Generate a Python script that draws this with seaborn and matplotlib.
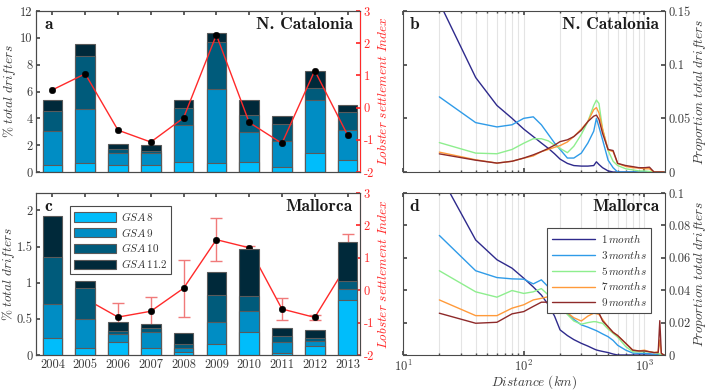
import numpy as np
import pandas as pd
import matplotlib
matplotlib.use('Agg')
import matplotlib.pyplot as plt
from matplotlib.patches import Patch
from matplotlib.ticker import FuncFormatter, NullFormatter, LogLocator
import seaborn as sns

# ---------------- data ----------------
years = ['2004', '2005', '2006', '2007', '2008', '2009', '2010', '2011', '2012', '2013']

# % total drifters per GSA, N. Catalonia
cat_gsa8 = [0.49, 0.67, 0.49, 0.52, 0.74, 0.67, 0.71, 0.37, 1.40, 0.89]
cat_gsa9 = [2.59, 3.99, 0.91, 0.88, 2.73, 5.54, 2.29, 1.95, 4.00, 2.21]
cat_gsa10 = [1.48, 4.01, 0.33, 0.20, 1.31, 3.45, 1.24, 1.25, 0.86, 1.38]
cat_gsa112 = [0.84, 0.84, 0.34, 0.42, 0.62, 0.69, 1.11, 0.62, 1.26, 0.50]
cat_index = [0.55, 1.05, -0.70, -1.07, -0.32, 2.26, -0.46, -1.11, 1.15, -0.85]

# % total drifters per GSA, Mallorca
mal_gsa8 = [0.23, 0.09, 0.18, 0.09, 0.04, 0.15, 0.32, 0.03, 0.13, 0.76]
mal_gsa9 = [0.47, 0.41, 0.11, 0.23, 0.06, 0.30, 0.29, 0.15, 0.07, 0.15]
mal_gsa10 = [0.65, 0.43, 0.04, 0.05, 0.05, 0.38, 0.20, 0.08, 0.03, 0.12]
mal_gsa112 = [0.57, 0.09, 0.13, 0.06, 0.15, 0.32, 0.66, 0.11, 0.12, 0.53]
mal_index = [np.nan, -0.26, -0.83, -0.65, 0.06, 1.56, 1.31, -0.58, -0.84, 0.81]
mal_err_lo = [np.nan, 0.30, 0.40, 0.45, 0.88, 0.67, 0.08, 0.34, 0.08, 0.91]
mal_err_hi = [np.nan, 0.31, 0.42, 0.44, 0.88, 0.66, 0.06, 0.33, 0.07, 0.93]

# distance distributions
dist_km = [20, 40, 60, 80, 100, 120, 140, 160, 180, 200,
           230, 260, 300, 340, 380, 400, 420, 450, 500, 550,
           600, 700, 800, 900, 1000, 1100, 1200, 1300, 1340, 1380, 1450]

cat_1m = [0.158, 0.088, 0.062, 0.050, 0.040, 0.033, 0.027, 0.022, 0.017, 0.012,
          0.008, 0.006, 0.0055, 0.0055, 0.006, 0.0095, 0.007, 0.004, 0.001, 0,
          0, 0, 0, 0, 0, 0, 0, 0, 0, 0, 0]
cat_3m = [0.070, 0.046, 0.042, 0.044, 0.050, 0.0514, 0.044, 0.035, 0.027, 0.021,
          0.013, 0.013, 0.0176, 0.027, 0.038, 0.050, 0.042, 0.030, 0.011, 0.004,
          0, 0, 0, 0, 0, 0, 0, 0, 0, 0, 0]
cat_5m = [0.0274, 0.0176, 0.017, 0.021, 0.0268, 0.031, 0.031, 0.029, 0.025, 0.022,
          0.018, 0.024, 0.035, 0.047, 0.062, 0.067, 0.0638, 0.040, 0.020, 0.010,
          0.006, 0.003, 0.002, 0.001, 0.001, 0.0005, 0, 0, 0, 0, 0]
cat_7m = [0.0185, 0.0114, 0.0083, 0.010, 0.0129, 0.015, 0.019, 0.021, 0.023, 0.0246,
          0.028, 0.033, 0.040, 0.047, 0.058, 0.060, 0.055, 0.040, 0.0206, 0.019,
          0.008, 0.0052, 0.004, 0.0037, 0.003, 0.003, 0, 0, 0, 0, 0]
cat_9m = [0.0169, 0.011, 0.0083, 0.010, 0.013, 0.016, 0.019, 0.022, 0.025, 0.0283,
          0.030, 0.033, 0.039, 0.047, 0.052, 0.053, 0.049, 0.036, 0.021, 0.020,
          0.008, 0.006, 0.005, 0.004, 0.004, 0.0045, 0, 0, 0, 0, 0]

mal_1m = [0.112, 0.071, 0.0588, 0.0536, 0.0474, 0.042, 0.037, 0.031, 0.024, 0.0155,
          0.012, 0.0095, 0.0072, 0.0055, 0.0038, 0.0031, 0.0027, 0.0022, 0.0015, 0.0006,
          0, 0, 0, 0, 0, 0, 0, 0, 0, 0, 0]
mal_3m = [0.0738, 0.052, 0.0478, 0.047, 0.0468, 0.0439, 0.0464, 0.042, 0.036, 0.031,
          0.026, 0.022, 0.0186, 0.0172, 0.0157, 0.015, 0.0142, 0.013, 0.0113, 0.009,
          0.006, 0.003, 0.0012, 0.001, 0.001, 0.0008, 0.0005, 0, 0, 0, 0]
mal_5m = [0.052, 0.039, 0.0357, 0.0398, 0.038, 0.039, 0.041, 0.037, 0.033, 0.030,
          0.025, 0.021, 0.019, 0.020, 0.0206, 0.0205, 0.020, 0.0196, 0.016, 0.0134,
          0.011, 0.0052, 0.002, 0.002, 0.002, 0.002, 0.0015, 0.001, 0.0005, 0, 0]
mal_7m = [0.034, 0.0243, 0.0243, 0.0289, 0.031, 0.034, 0.035, 0.036, 0.033, 0.030,
          0.026, 0.023, 0.021, 0.024, 0.0258, 0.0255, 0.025, 0.022, 0.0171, 0.014,
          0.012, 0.0072, 0.003, 0.0025, 0.003, 0.002, 0.0015, 0.002, 0.0093, 0.001, 0]
mal_9m = [0.0258, 0.0196, 0.0202, 0.0254, 0.0268, 0.030, 0.0326, 0.0326, 0.031, 0.0303,
          0.029, 0.027, 0.0272, 0.0285, 0.0284, 0.0283, 0.026, 0.021, 0.0175, 0.014,
          0.012, 0.0072, 0.003, 0.0025, 0.0025, 0.002, 0.0015, 0.0015, 0.0212, 0.001, 0]

gsa_labels = [r'$GSA\,8$', r'$GSA\,9$', r'$GSA\,10$', r'$GSA\,11.2$']
gsa_colors = ['#00bdfb', '#008dc4', '#005b7b', '#00293a']
period_labels = [r'$1\,month$', r'$3\,months$', r'$5\,months$', r'$7\,months$', r'$9\,months$']
period_colors = ['#2e2a8c', '#2f9be8', '#8eee8e', '#ff9a3a', '#8e2a2a']

# ---------------- style ----------------
sns.set_theme(style='ticks')
plt.rcParams.update({
    'font.family': 'serif',
    'font.serif': ['cmr10', 'DejaVu Serif'],
    'mathtext.fontset': 'cm',
    'axes.unicode_minus': False,
    'axes.formatter.use_mathtext': True,
    'axes.edgecolor': '#4a4a4a',
    'axes.linewidth': 0.8,
    'xtick.direction': 'in',
    'ytick.direction': 'in',
    'xtick.color': '#4a4a4a',
    'ytick.color': '#4a4a4a',
    'xtick.labelcolor': '#3a3a3a',
    'ytick.labelcolor': '#3a3a3a',
    'xtick.labelsize': 9,
    'ytick.labelsize': 9,
    'xtick.major.size': 3,
    'ytick.major.size': 3,
    'xtick.major.pad': 2.5,
    'ytick.major.pad': 2.5,
    'text.color': '#333333',
    'axes.labelcolor': '#3a3a3a',
})

RED = '#ff2a2a'
W, H = 708, 390
LABEL_FS = 9.5
fig = plt.figure(figsize=(W / 100, H / 100), dpi=100)


def box(x0, y0, x1, y1):
    return [x0 / W, 1 - y1 / H, (x1 - x0) / W, (y1 - y0) / H]


ax_a = fig.add_axes(box(36, 11, 360, 172))
ax_b = fig.add_axes(box(403, 11, 665, 172))
ax_c = fig.add_axes(box(36, 193, 360, 355))
ax_d = fig.add_axes(box(403, 193, 665, 355))

gfmt = FuncFormatter(lambda v, p: '%g' % v)


def bars_panel(ax, parts, index, ylim, yticks, label_px, err=None):
    cum = np.cumsum(np.array(parts), axis=0)
    for i in range(3, -1, -1):
        sns.barplot(x=years, y=cum[i], color=gsa_colors[i], width=0.6,
                    edgecolor='#5a5a5a', linewidth=0.8, saturation=1, ax=ax)
    ax.set_xlim(-0.5, 9.38)
    ax.set_ylim(*ylim)
    ax.set_yticks(yticks)
    ax.yaxis.set_major_formatter(gfmt)
    ax.set_xlabel('')
    ax.set_ylabel(r'$\%\ total\ drifters$', fontsize=LABEL_FS)
    ax.yaxis.set_label_coords((label_px - 36) / 324, 0.5)
    ax.tick_params(axis='x', top=True, bottom=True)
    ax.tick_params(axis='y', left=True, right=False)

    ax2 = ax.twinx()
    pos = np.arange(len(years))
    if err is not None:
        ax2.errorbar(pos, index, yerr=err, fmt='none', ecolor='#f07a7a',
                     elinewidth=1.0, capsize=4, capthick=1.0)
    sns.lineplot(x=pos, y=index, color=RED, lw=1.0, ax=ax2)
    sns.scatterplot(x=pos, y=index, color='black', s=22, edgecolor='black', ax=ax2, zorder=5)
    ax2.set_ylim(-2, 3)
    ax2.set_yticks([-2, -1, 0, 1, 2, 3])
    ax2.yaxis.set_major_formatter(FuncFormatter(lambda v, p: '%d' % v))
    ax2.tick_params(axis='y', colors=RED, labelcolor=RED, right=True)
    ax2.spines['right'].set_color(RED)
    ax2.set_ylabel(r'$Lobster\ settlement\ Index$', color=RED, fontsize=LABEL_FS)
    ax2.yaxis.set_label_coords((377 - 36) / 324, 0.5)
    return ax2


def lines_panel(ax, series, ylim, yticks):
    for vals, lab, col in zip(series, period_labels, period_colors):
        sns.lineplot(x=dist_km, y=vals, color=col, lw=1.0, label=lab, ax=ax, estimator=None)
    ax.set_xscale('log')
    ax.set_xlim(10, 1480)
    ax.set_ylim(*ylim)
    ax.set_yticks(yticks)
    ax.yaxis.set_major_formatter(gfmt)
    ax.xaxis.set_minor_locator(LogLocator(base=10, subs=np.arange(2, 10)))
    ax.xaxis.set_minor_formatter(NullFormatter())
    ax.grid(True, which='both', axis='x', color='#e4e4e4', lw=0.8)
    ax.set_axisbelow(True)
    ax.tick_params(axis='y', left=True, right=True, labelleft=False, labelright=True)
    ax.tick_params(axis='x', which='both', top=True, bottom=True)
    ax.tick_params(axis='x', which='minor', length=1.5)
    ax.yaxis.set_label_position('right')
    ax.set_ylabel(r'$Proportion\ total\ drifters$', fontsize=LABEL_FS)
    ax.yaxis.set_label_coords((692 - 403) / 262, 0.5)


# panel a
bars_panel(ax_a, [cat_gsa8, cat_gsa9, cat_gsa10, cat_gsa112], cat_index,
           (0, 12), [0, 2, 4, 6, 8, 10, 12], label_px=18.5)
ax_a.tick_params(axis='x', labelbottom=False)

# panel c
ax2c = bars_panel(ax_c, [mal_gsa8, mal_gsa9, mal_gsa10, mal_gsa112], mal_index,
                  (0, 2.24), [0, 0.5, 1, 1.5, 2], label_px=17.5, err=[mal_err_lo, mal_err_hi])
handles = [Patch(facecolor=c, edgecolor='#5a5a5a', lw=0.8) for c in gsa_colors]
leg = ax_c.legend(handles, gsa_labels, loc='upper left', bbox_to_anchor=(0.088, 0.955),
                  fontsize=8, handlelength=3.8, handleheight=0.9, labelspacing=0.25,
                  borderpad=0.35, handletextpad=0.4, fancybox=False, framealpha=1,
                  edgecolor='#4a4a4a')
leg.get_frame().set_linewidth(0.8)
leg.set_zorder(10)
ax_c.set_zorder(ax2c.get_zorder() + 1)
ax_c.patch.set_visible(False)

# panel b
lines_panel(ax_b, [cat_1m, cat_3m, cat_5m, cat_7m, cat_9m], (0, 0.15), [0, 0.05, 0.1, 0.15])
ax_b.get_legend().remove()
ax_b.tick_params(axis='x', labelbottom=False)

# panel d
lines_panel(ax_d, [mal_1m, mal_3m, mal_5m, mal_7m, mal_9m], (0, 0.1),
            [0, 0.02, 0.04, 0.06, 0.08, 0.1])
leg = ax_d.legend(loc='upper right', bbox_to_anchor=(0.968, 0.82), fontsize=8,
                  handlelength=3.9, labelspacing=0.25, borderpad=0.4,
                  handletextpad=0.5, fancybox=False, framealpha=1, edgecolor='#4a4a4a')
leg.get_frame().set_linewidth(0.8)
ax_d.set_xlabel(r'$Distance\ (km)$', fontsize=LABEL_FS, labelpad=0)

# panel titles
for ax, letter, name in [(ax_a, 'a', 'N. Catalonia'), (ax_b, 'b', 'N. Catalonia'),
                         (ax_c, 'c', 'Mallorca'), (ax_d, 'd', 'Mallorca')]:
    ax.text(0.025, 0.915, letter, transform=ax.transAxes, family='cmb10',
            fontsize=12.5, va='center', ha='left', color='#1a1a1a', zorder=20)
    ax.text(0.978, 0.915, name, transform=ax.transAxes, family='cmb10',
            fontsize=12.5, va='center', ha='right', color='#1a1a1a', zorder=20)

fig.savefig('out.png', dpi=100)
